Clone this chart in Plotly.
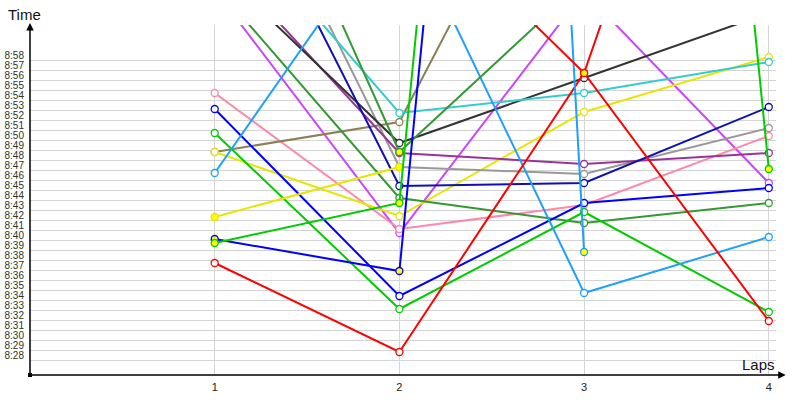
import plotly.graph_objects as go

# lap numbers and times (minutes after 8:00, values above 61 run off the top)
laps = [1, 2, 3, 4]
time_ticks = list(range(28, 59))
time_labels = [f"8:{m:02d}" for m in time_ticks]

red_a = [37.2, 28.3, 56.2, 31.4]
red_b = [None, 74.3, 56.2, 109.5]
blue_a = [52.6, 33.9, 43.2, 44.7]
blue_b = [39.6, 36.4, 225.0, None]
darkblue = [81.4, 44.9, 45.2, 52.8]
green_a = [50.2, 32.6, 42.3, 32.3]
green_b = [39.2, 43.2, 232.0, 46.6]
forest_a = [65.0, 43.7, 41.2, 43.2]
forest_b = [89.5, 48.3, 65.4, None]
yellow_a = [41.8, 46.8, None, None]
yellow_b = [48.3, 41.9, 52.3, 57.8]
pink = [54.2, 40.6, 43.0, 49.9]
skyblue_a = [46.2, 72.6, 34.2, 39.8]
skyblue_b = [None, 370.0, 38.3, None]
cyan = [73.5, 52.2, 54.2, 57.3]
olive = [48.3, 51.3, 86.7, None]
gray = [84.1, 46.8, 46.1, 50.7]
black = [66.9, 49.2, 55.7, 62.2]
purple = [68.2, 48.2, 47.1, 48.2]
violet = [64.5, 40.2, 64.3, 45.2]

# (values, colour, marker fill)
series = [
    (violet, "#cc44ff", "white"),
    (pink, "#ff88aa", "white"),
    (olive, "#8b8055", "white"),
    (yellow_b, "#e6e600", "white"),
    (gray, "#999999", "white"),
    (purple, "#993399", "white"),
    (black, "#333333", "white"),
    (cyan, "#33cccc", "white"),
    (darkblue, "#1010b0", "white"),
    (forest_a, "#339933", "white"),
    (green_a, "#00cc00", "white"),
    (blue_a, "#0000ff", "white"),
    (skyblue_a, "#1ea0ff", "white"),
    (red_a, "#ff0000", "white"),
    (forest_b, "#339933", "#ffff00"),
    (yellow_a, "#e6e600", "#ffff00"),
    (blue_b, "#0000ff", "#ffff00"),
    (green_b, "#00cc00", "#ffff00"),
    (skyblue_b, "#1ea0ff", "#ffff00"),
    (red_b, "#ff0000", "#ffff00"),
]

fig = go.Figure()
for vals, col, fill in series:
    fig.add_trace(go.Scatter(
        x=laps, y=vals, mode="lines+markers",
        line=dict(color=col, width=2),
        marker=dict(symbol="circle", size=7, color=fill,
                    line=dict(color=col, width=1.3)),
        cliponaxis=True,
    ))

fig.update_layout(
    width=800, height=400,
    margin=dict(l=30, r=24, t=25, b=25),
    plot_bgcolor="white", paper_bgcolor="white",
    showlegend=False,
    font=dict(family="Liberation Sans", color="#222222"),
)
fig.update_xaxes(
    range=[0, 4.039], tickvals=laps, ticktext=[str(l) for l in laps],
    showgrid=True, gridcolor="#d4d4d4", gridwidth=1,
    zeroline=False, showline=False, ticks="", automargin=False,
    tickfont=dict(size=11, color="#222222"), ticklabelstandoff=4,
)
fig.update_yaxes(
    range=[26, 61], tickvals=time_ticks, ticktext=time_labels,
    showgrid=False, zeroline=False, showline=False, ticks="", automargin=False,
    tickfont=dict(size=10, color="#333322"), ticklabelstandoff=5,
    minor=dict(tickmode="array", tickvals=[m - 0.5 for m in time_ticks],
               showgrid=True, gridcolor="#d4d4d4", gridwidth=1, ticks=""),
)

# axis arrows
fig.add_annotation(x=0, y=1.006, xref="paper", yref="paper", ax=0, ay=352,
                   text="", showarrow=True, arrowhead=2, arrowsize=1,
                   arrowwidth=1.5, arrowcolor="black")
fig.add_annotation(x=1.013, y=0, xref="paper", yref="paper", ax=-756, ay=0,
                   text="", showarrow=True, arrowhead=2, arrowsize=1,
                   arrowwidth=1.5, arrowcolor="black")
fig.add_shape(type="rect", xref="paper", yref="paper", xsizemode="pixel",
              ysizemode="pixel", xanchor=0, yanchor=0, x0=-2, x1=2, y0=-2, y1=2,
              fillcolor="black", line=dict(width=0))

fig.add_annotation(x=-0.007, y=1.031, xref="paper", yref="paper", text="Time",
                   showarrow=False, xanchor="center", yanchor="middle",
                   font=dict(size=15, color="#111111"))
fig.add_annotation(x=0.977, y=0.031, xref="paper", yref="paper", text="Laps",
                   showarrow=False, xanchor="center", yanchor="middle",
                   font=dict(size=15, color="#111111"))

# page has a default body margin; drop it so the chart sits at the corner
fig.write_html("out.html", config={"displayModeBar": False},
               post_script="document.body.style.margin='0';")
